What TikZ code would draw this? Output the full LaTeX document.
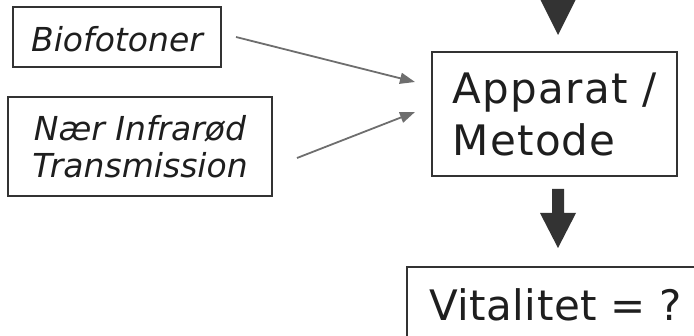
\documentclass[tikz,border=0pt]{standalone}
\usepackage{fontspec}
\setmainfont{DejaVu Sans}
\usetikzlibrary{arrows.meta,calc}
\definecolor{boxline}{HTML}{333333}
\definecolor{thinarrow}{HTML}{6E6E6E}
\definecolor{blockfill}{HTML}{333333}
\definecolor{txt}{HTML}{1E1E1E}
\begin{document}
\begin{tikzpicture}[x=1pt,y=-1pt,
  box/.style={draw=boxline, line width=2pt, text=txt, inner sep=0pt},
  smalltext/.style={font=\fontsize{33}{37}\selectfont\itshape},
  bigtext/.style={font=\fontsize{42}{52}\selectfont\addfontfeatures{LetterSpace=3}},
  vittext/.style={font=\fontsize{42}{52}\selectfont\addfontfeatures{LetterSpace=1.2}},
  thinarrow/.style={draw=thinarrow, line width=1.8pt, -{Triangle[length=15pt,width=11pt]}},
  blockarrow/.style={fill=blockfill, draw=none}]
\useasboundingbox (0,0) rectangle (694,336);
\clip (0,0) rectangle (694,336);
\node[box, smalltext, minimum width=208pt, minimum height=60pt, text height=30pt, text depth=0pt] (bio) at (117,37) {Biofotoner};
\node[box, smalltext, align=center, minimum width=264pt, minimum height=99pt] (nir) at (140,146.5) {Nær Infrarød\\Transmission};
\node[box, bigtext, align=left, minimum width=245pt, minimum height=124pt] (app) at (554.5,114) {Apparat /\\Metode};
\node[box, vittext, anchor=north west, inner xsep=22pt, inner ysep=22pt] (vit) at (406,266) {Vitalitet = ?};
\draw[thinarrow] ($(bio.east)+(14,0)$) -- ($(app.west)+(-16,-32)$);
\draw[thinarrow] ($(nir.east)+(24,11.5)$) -- ($(app.west)+(-16,-2)$);
\fill[blockarrow] ($(app.north)+(3.5,-16)$) -- ++(18,-36) -- ++(-12,0) -- ++(0,-30) -- ++(-12,0) -- ++(0,30) -- ++(-12,0) -- cycle;
\fill[blockarrow] ($(app.south)+(-2.5,12)$) -- ++(12,0) -- ++(0,24) -- ++(12,0) -- ++(-18,35) -- ++(-18,-35) -- ++(12,0) -- cycle;
\end{tikzpicture}
\end{document}
